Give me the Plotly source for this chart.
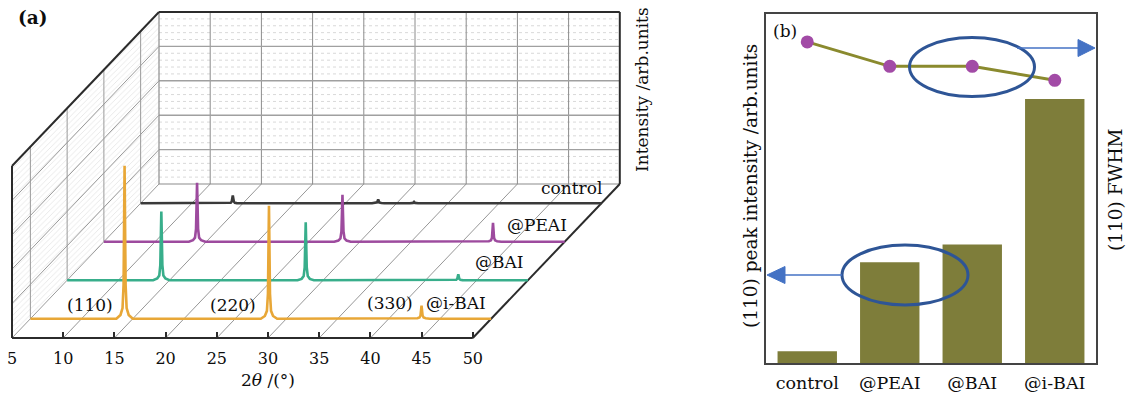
import plotly.graph_objects as go

W, H = 1129, 401
FONT = "DejaVu Serif"

# ---------------- panel (a): XRD patterns (pseudo-3D waterfall) ----------------
theta_ticks = [5, 10, 15, 20, 25, 30, 35, 40, 45, 50]
intensity_major = [20, 40, 60, 80]
intensity_minor = [4, 8, 12, 16, 24, 28, 32, 36, 44, 48, 52, 56, 64, 68, 72, 76, 84, 88, 92, 96]
samples = ["control", "@PEAI", "@BAI", "@i-BAI"]
sample_depth = [3.5, 2.5, 1.5, 0.5]
sample_colors = ["#3a3a3a", "#9d4b9e", "#38ae8b", "#e8a737"]

control_theta = [5, 13.2, 13.6, 13.8, 13.9, 14.0, 14.1, 14.2, 14.4, 14.8,
                 27.6, 27.9, 28.1, 28.2, 28.3, 28.5, 28.8, 31.3, 31.6, 31.7, 31.8, 32.1, 50]
control_int = [0, 0, 0.1, 0.3, 1.0, 4.5, 1.0, 0.3, 0.1, 0,
               0, 0.1, 0.5, 2.3, 0.5, 0.1, 0, 0, 0.2, 0.8, 0.2, 0, 0]

peai_theta = [5, 13.3, 13.7, 13.9, 14.0, 14.1, 14.2, 14.3, 14.5, 14.9,
              27.5, 27.9, 28.1, 28.2, 28.3, 28.4, 28.5, 28.7, 29.1,
              42.2, 42.6, 42.8, 42.9, 43.0, 43.1, 43.2, 43.4, 43.8, 50]
peai_int = [0, 0, 0.9, 2.4, 7.5, 34.3, 7.5, 2.4, 0.9, 0,
            0, 0.7, 1.9, 6.0, 27.3, 6.0, 1.9, 0.7, 0,
            0, 0.3, 0.8, 2.4, 11.0, 2.4, 0.8, 0.3, 0, 0]

bai_theta = [5, 13.4, 13.8, 14.0, 14.1, 14.2, 14.3, 14.4, 14.6, 15.0,
             27.5, 27.9, 28.1, 28.2, 28.3, 28.4, 28.5, 28.7, 29.1,
             42.4, 42.8, 43.0, 43.1, 43.2, 43.3, 43.4, 43.6, 44.0, 50]
bai_int = [0, 0, 1.0, 2.8, 8.8, 40.0, 8.8, 2.8, 1.0, 0,
           0, 0.8, 2.4, 7.4, 33.7, 7.4, 2.4, 0.8, 0,
           0, 0.1, 0.3, 0.8, 3.5, 0.8, 0.3, 0.1, 0, 0]

ibai_theta = [5, 13.4, 13.8, 14.0, 14.1, 14.2, 14.3, 14.4, 14.6, 15.0,
              27.5, 27.9, 28.1, 28.2, 28.3, 28.4, 28.5, 28.7, 29.1,
              42.4, 42.8, 43.0, 43.1, 43.2, 43.3, 43.4, 43.6, 44.0, 50]
ibai_int = [0, 0, 2.2, 6.2, 19.6, 89.0, 19.6, 6.2, 2.2, 0,
            0, 1.6, 4.6, 14.5, 65.7, 14.5, 4.6, 1.6, 0,
            0, 0.3, 0.7, 1.9, 7.6, 1.9, 0.7, 0.3, 0, 0]

series_theta = [control_theta, peai_theta, bai_theta, ibai_theta]
series_int = [control_int, peai_int, bai_int, ibai_int]

# ---------------- panel (b): (110) peak intensity & FWHM ----------------
peak110_intensity = [4.0, 34.0, 40.0, 89.0]
fwhm110 = [0.192, 0.185, 0.185, 0.181]

# ---------------- projection (layout) ----------------
PX_T = 10.24          # px per degree on the front face
PX_I = 1.72           # px per intensity unit
FRONT_LEFT_PX = 12    # x pixel of theta=5 on front face
FRONT_BOTTOM_PX = 338 # y pixel of the front bottom edge
KX = 36.75 / PX_T     # theta-units shift per depth unit
KY = 38.5 / PX_I      # intensity-units shift per depth unit
T0, T1, I_TOP, D_MAX = 5, 50, 100, 4


def proj(t, i, d):
    return t + d * KX, i + d * KY


def seg_xy(segs):
    xs, ys = [], []
    for a, b in segs:
        x0, y0 = proj(*a)
        x1, y1 = proj(*b)
        xs += [x0, x1, None]
        ys += [y0, y1, None]
    return xs, ys


def P(x, y):
    return x / W, 1 - y / H


fig = go.Figure()


def add_segs(segs, color, width, dash="solid"):
    xs, ys = seg_xy(segs)
    fig.add_trace(go.Scatter(x=xs, y=ys, mode="lines", hoverinfo="skip", showlegend=False,
                             line=dict(color=color, width=width, dash=dash),
                             xaxis="x", yaxis="y"))


# left wall hatch
wall = [(T0, 0, 0), (T0, I_TOP, 0), (T0, I_TOP, D_MAX), (T0, 0, D_MAX), (T0, 0, 0)]
wx, wy = zip(*[proj(*p) for p in wall])
fig.add_trace(go.Scatter(x=list(wx), y=list(wy), mode="lines", fill="toself",
                         fillcolor="rgba(255,255,255,0)",
                         fillpattern=dict(shape="/", fgcolor="#c9c9c9", bgcolor="white", size=4, solidity=0.2),
                         line=dict(width=0), hoverinfo="skip", showlegend=False, xaxis="x", yaxis="y"))

# grids
add_segs([((T0, i, D_MAX), (T1, i, D_MAX)) for i in intensity_minor], "#cfcfcf", 0.8, "dot")
add_segs([((t, 0, D_MAX), (t, I_TOP, D_MAX)) for t in theta_ticks[1:-1]], "#8c8c8c", 1)
add_segs([((T0, i, D_MAX), (T1, i, D_MAX)) for i in intensity_major], "#a0a0a0", 1.4)
add_segs([((T0, 0, D_MAX), (T1, 0, D_MAX)), ((T0, 0, D_MAX), (T0, I_TOP, D_MAX))], "#8c8c8c", 1.2)
add_segs([((T0, 0, d), (T0, I_TOP, d)) for d in sample_depth], "#9a9a9a", 1)
add_segs([((T0, i, 0), (T0, i, D_MAX)) for i in [0] + intensity_major], "#9a9a9a", 1)
add_segs([((t, 0, 0), (t, 0, D_MAX)) for t in theta_ticks[1:-1]], "#8a8a8a", 0.9)

# dark box edges
add_segs([((T0, 0, 0), (T0, I_TOP, 0)), ((T0, I_TOP, 0), (T0, I_TOP, D_MAX)),
          ((T0, I_TOP, D_MAX), (T1, I_TOP, D_MAX)), ((T1, I_TOP, D_MAX), (T1, 0, D_MAX)),
          ((T1, 0, D_MAX), (T1, 0, 0)), ((T0, 0, 0), (T1, 0, 0))], "#2b2b2b", 2)

# XRD series (back to front)
for name, d, col, th, it in zip(samples, sample_depth, sample_colors, series_theta, series_int):
    xs = [t + d * KX for t in th]
    ys = [v + d * KY for v in it]
    fig.add_trace(go.Scatter(x=xs, y=ys, mode="lines", name=name, showlegend=False,
                             line=dict(color=col, width=2.6), xaxis="x", yaxis="y"))

# ---------------- panel (b) traces ----------------
fig.add_trace(go.Bar(x=samples, y=peak110_intensity, width=0.72, marker=dict(color="#7e7d3a", line=dict(width=0)),
                     showlegend=False, xaxis="x2", yaxis="y2"))
fig.add_trace(go.Scatter(x=samples, y=fwhm110, mode="lines+markers", showlegend=False,
                         line=dict(color="#8a8a2e", width=3),
                         marker=dict(color="#a24ba6", size=13, line=dict(width=0)),
                         xaxis="x2", yaxis="y3"))

# ---------------- axes ----------------
xr0 = T0 - FRONT_LEFT_PX / PX_T
xr1 = T0 + (660 - FRONT_LEFT_PX) / PX_T
yr0 = -(H - FRONT_BOTTOM_PX) / PX_I
yr1 = FRONT_BOTTOM_PX / PX_I

TXT = "#0d0d0d"
fig.update_layout(
    width=W, height=H, margin=dict(l=0, r=0, t=0, b=0),
    paper_bgcolor="white", plot_bgcolor="rgba(0,0,0,0)",
    font=dict(family=FONT, color=TXT),
    xaxis=dict(domain=[0, 660 / W], range=[xr0, xr1], anchor="free", position=1 - FRONT_BOTTOM_PX / H,
               showgrid=False, zeroline=False, showline=False,
               tickmode="array", tickvals=theta_ticks, ticks="inside", ticklen=6, tickwidth=1.5,
               tickcolor="#2b2b2b", tickfont=dict(family=FONT, size=16, color=TXT),
               ticklabelstandoff=9),
    yaxis=dict(domain=[0, 1], range=[yr0, yr1], visible=False),
    xaxis2=dict(domain=[766 / W, 1096 / W], anchor="y2", type="category", range=[-0.5, 3.5],
                showgrid=False, zeroline=False, showline=True, mirror=True, linecolor="#444", linewidth=1.5,
                ticks="", tickfont=dict(family=FONT, size=17.5, color=TXT), ticklabelstandoff=3),
    yaxis2=dict(domain=[1 - 363 / H, 1 - 14 / H], anchor="x2", range=[0, 117.7],
                showgrid=False, zeroline=False, showline=True, mirror=True, linecolor="#444", linewidth=1.5,
                ticks="", showticklabels=False),
    yaxis3=dict(overlaying="y2", anchor="x2", side="right", range=[0.10, 0.20],
                showgrid=False, zeroline=False, showline=False, ticks="", showticklabels=False),
)

# ---------------- annotations ----------------
def ann(text, x, y, size=17, angle=0, **kw):
    px_, py_ = P(x, y)
    fig.add_annotation(text=text, x=px_, y=py_, xref="paper", yref="paper", showarrow=False,
                       xanchor="center", yanchor="middle", textangle=angle,
                       font=dict(family=FONT, size=size, color=TXT), **kw)


ann("<b>(a)</b>", 33, 17, 18.5)
ann("Intensity /arb.units", 642, 90, 17, -90)
ann("2<i>θ</i> /(°)", 268, 380, 17)
ann("control", 571, 188, 17)
ann("@PEAI", 537, 225, 17)
ann("@BAI", 499, 262, 17)
ann("@i-BAI", 456, 303, 17)
ann("(330)", 390, 303, 17)
ann("(220)", 233, 305, 17)
ann("(110)", 90, 305, 17)

ann("(b)", 785, 31, 17)
ann("(110) peak intensity /arb.units", 750, 186, 18.5, -90)
ann("(110) FWHM", 1115, 190, 18.5, -90)

# ellipses and arrows (panel b)
ELL = "#2e5596"
ARR = "#4472c4"
for cx, cy, rx, ry in [(972, 67, 62.5, 29.5), (905, 275, 63, 30)]:
    x0, y1 = P(cx - rx, cy - ry)
    x1, y0 = P(cx + rx, cy + ry)
    fig.add_shape(type="circle", xref="paper", yref="paper", x0=x0, x1=x1, y0=y0, y1=y1,
                  line=dict(color=ELL, width=3), layer="above")

for (xa, xb, yy) in [(1017, 1080, 48), (784, 842, 275)]:
    a = P(xa, yy); b = P(xb, yy)
    fig.add_shape(type="line", xref="paper", yref="paper", x0=a[0], y0=a[1], x1=b[0], y1=b[1],
                  line=dict(color=ARR, width=1.6), layer="above")

for tri in [[(1095, 48), (1078, 39.5), (1078, 56.5)], [(767, 275), (785, 266.5), (785, 283.5)]]:
    pts = [P(x, y) for x, y in tri]
    path = "M {} {} L {} {} L {} {} Z".format(*[v for p in pts for v in p])
    fig.add_shape(type="path", xref="paper", yref="paper", path=path,
                  fillcolor=ARR, line=dict(color=ARR, width=1), layer="above")

fig.write_html("out.html", config={"displayModeBar": False},
               post_script="document.body.style.margin='0';document.body.style.overflow='hidden';")
